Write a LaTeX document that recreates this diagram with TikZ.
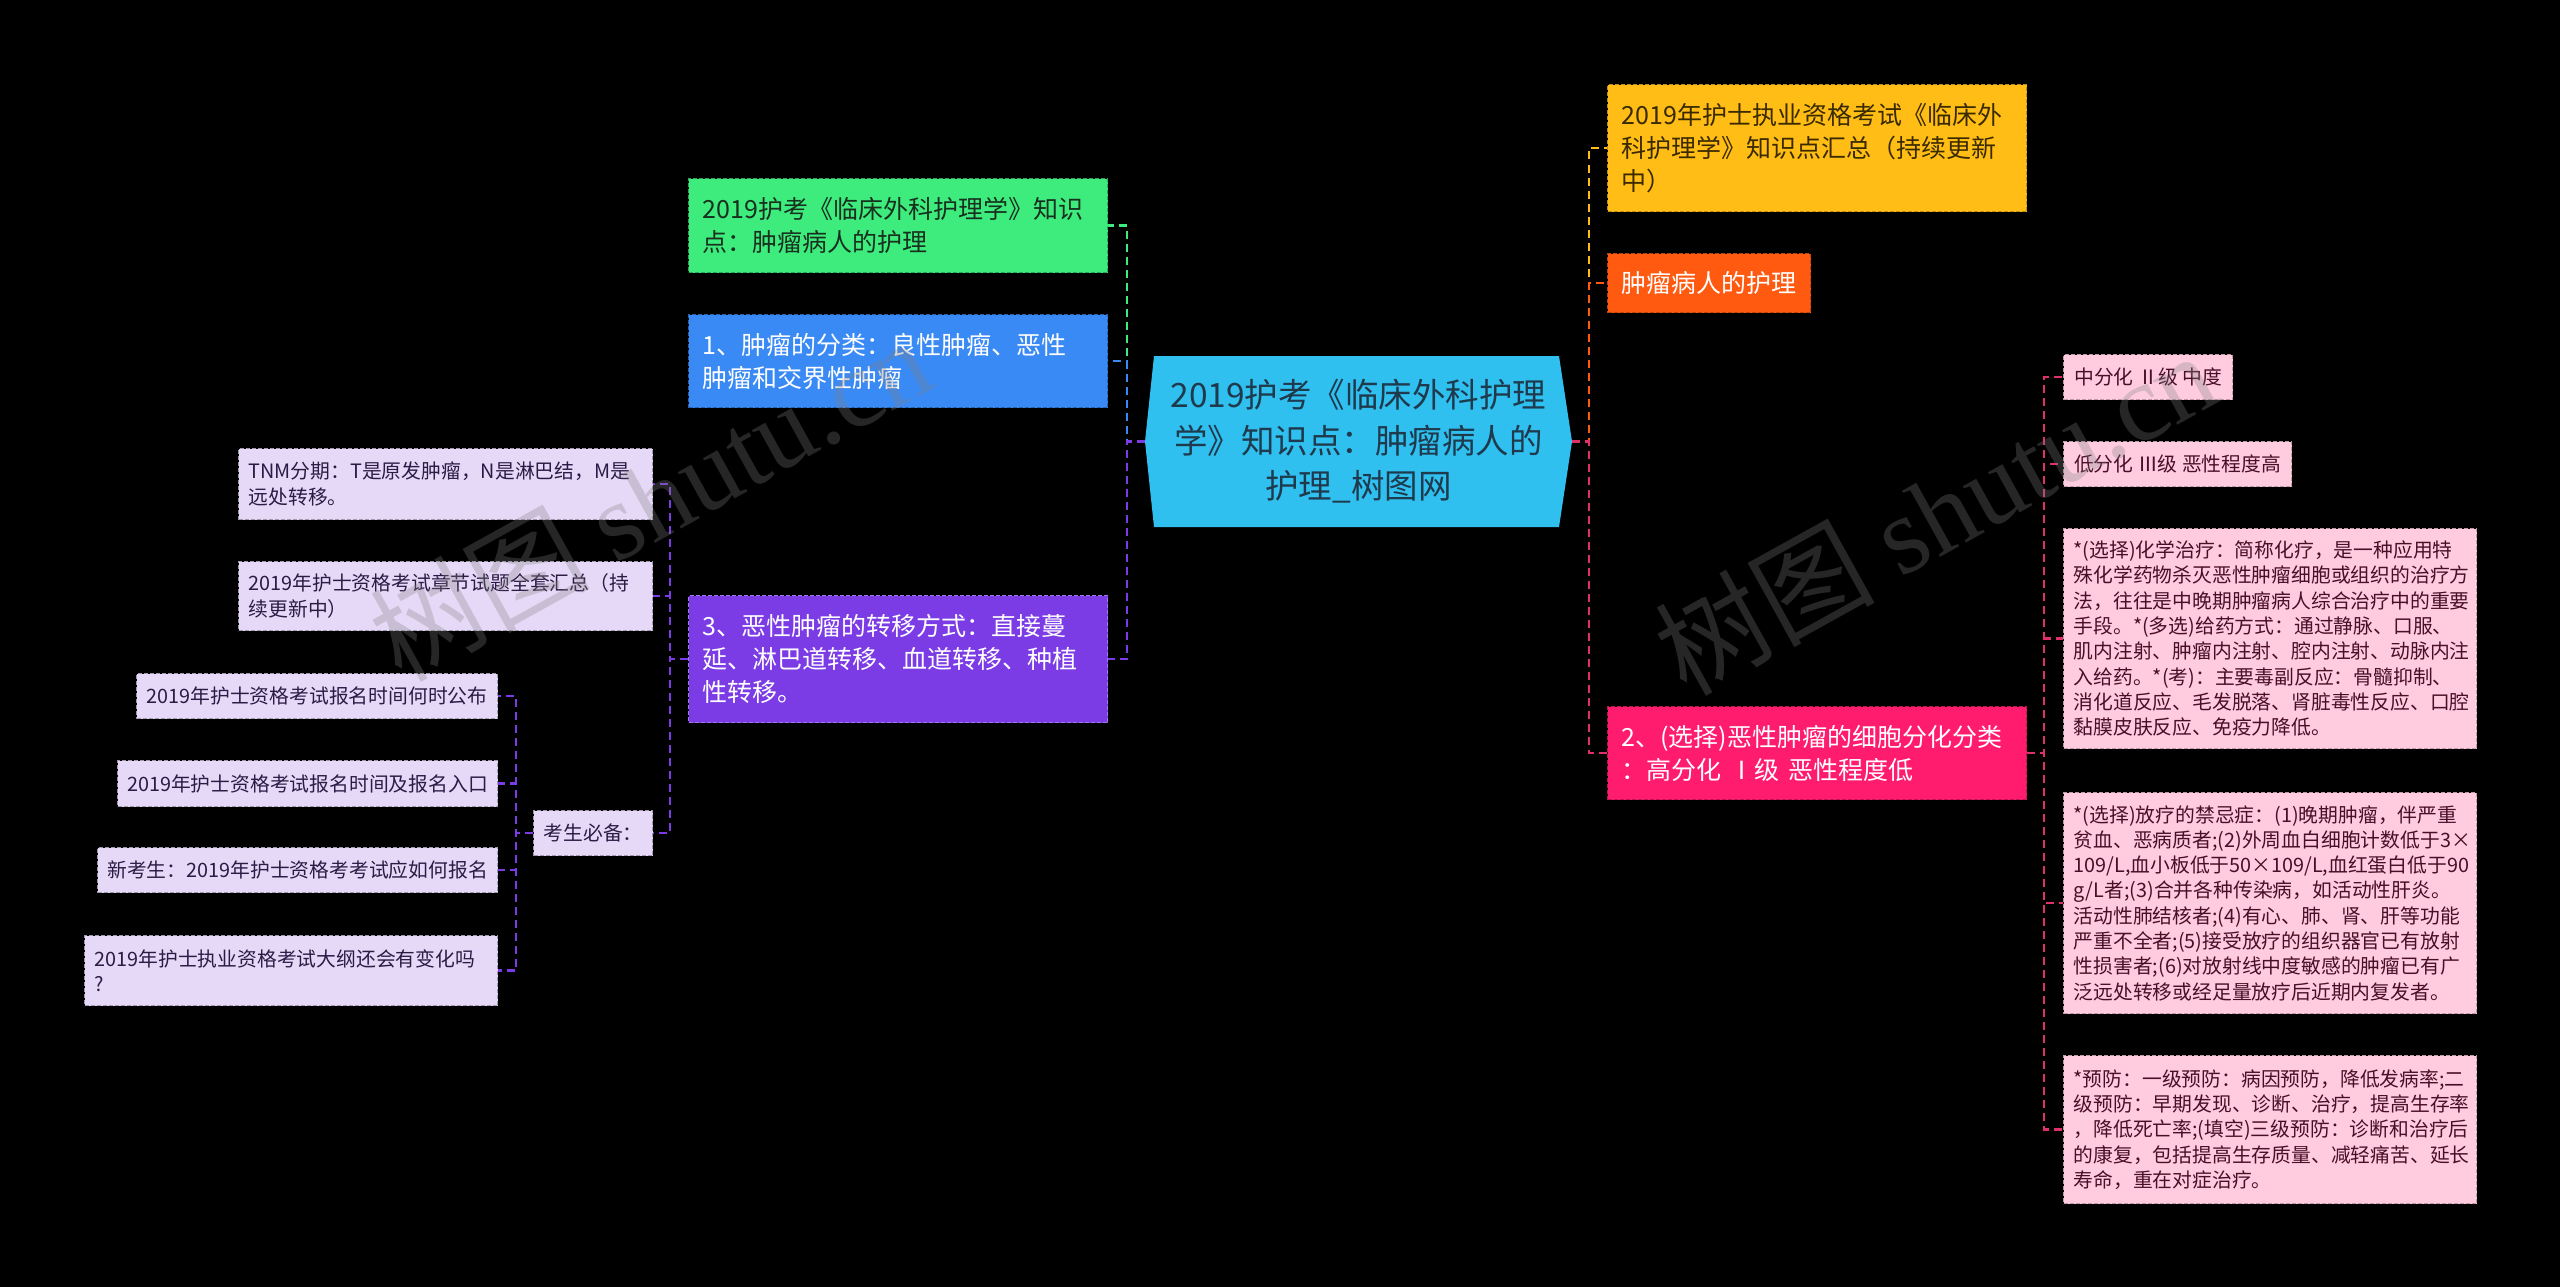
\documentclass[tikz,border=0pt]{standalone}
\usepackage{fontspec}
\setmainfont{Noto Sans CJK SC}
\newfontfamily\wmfont{Liberation Serif}
\usetikzlibrary{calc}
\definecolor{ccyan}{HTML}{30C0F0}
\definecolor{ccenterT}{HTML}{1E3A4C}
\definecolor{cgreen}{HTML}{3EEC7E}
\definecolor{cgreenT}{HTML}{18301E}
\definecolor{cblue}{HTML}{3A8AF5}
\definecolor{cpurple}{HTML}{7B3BE5}
\definecolor{clav}{HTML}{E6D9F7}
\definecolor{clavT}{HTML}{2D1B45}
\definecolor{cyellow}{HTML}{FFBD15}
\definecolor{cyellowT}{HTML}{3A2A00}
\definecolor{corange}{HTML}{FF5A0F}
\definecolor{chot}{HTML}{FF1B6E}
\definecolor{chotL}{HTML}{E0306A}
\definecolor{cpink}{HTML}{FFCCDF}
\definecolor{cpinkT}{HTML}{4A0F28}
\tikzset{
  box/.style={anchor=north west, inner ysep=2pt, dash pattern=on 4pt off 2pt, line width=1.2pt},
  lvA/.style={box, inner xsep=14pt, align=left, font=\fontsize{25}{33}\selectfont},
  leaf/.style={box, inner xsep=10pt, align=left, font=\fontsize{19.8}{25.3}\selectfont},
  leafc/.style={box, inner xsep=4pt, font=\fontsize{19.8}{25.3}\selectfont},
  lavbox/.style={fill=clav, draw=clav!70!black, text=clavT},
  pinkbox/.style={fill=cpink, draw=cpink!75!black, text=cpinkT},
  link/.style={line width=2.5pt, dash pattern=on 8pt off 5pt},
  wm/.style={rotate=29, text=gray, opacity=0.3, font=\fontsize{110}{120}\selectfont},
}
\begin{document}
\begin{tikzpicture}[x=1pt,y=-1pt]
\fill[black] (0,0) rectangle (2560,1287);
\useasboundingbox (0,0) rectangle (2560,1287);

% center
\fill[ccyan] (1145,441.5) -- (1154,356) -- (1559,356) -- (1572,441.5) -- (1559,527) -- (1154,527) -- cycle;
\node[minimum width=427pt, minimum height=171pt, inner sep=0pt, align=center, text=ccenterT,
      font=\fontsize{33.5}{45.5}\selectfont] (c) at (1358.5,441.5)
  {2019护考《临床外科护理\\学》知识点：肿瘤病人的\\护理\_树图网};

% level 1 left
\node[lvA, fill=cgreen, draw=cgreen!70!black, text=cgreenT, text width=391pt, minimum height=94pt] (g) at (688,178)
  {2019护考《临床外科护理学》知识\\点：肿瘤病人的护理};
\node[lvA, fill=cblue, draw=cblue!70!black, text=white, text width=391pt, minimum height=93pt] (b) at (688,314)
  {1、肿瘤的分类：良性肿瘤、恶性\\肿瘤和交界性肿瘤};
\node[lvA, fill=cpurple, draw=cpurple!70!white, text=white, text width=391pt, minimum height=127pt] (p) at (688,595)
  {3、恶性肿瘤的转移方式：直接蔓\\延、淋巴道转移、血道转移、种植\\性转移。};

% level 1 right
\node[lvA, fill=cyellow, draw=cyellow!75!black, text=cyellowT, text width=391pt, minimum height=127pt] (y) at (1607,84)
  {2019年护士执业资格考试《临床外\\科护理学》知识点汇总（持续更新\\中）};
\node[lvA, fill=corange, draw=corange!75!black, text=white, text width=175pt, minimum height=59pt] (o) at (1607,253)
  {肿瘤病人的护理};
\node[lvA, fill=chot, draw=chot!75!black, text=white, text width=391pt, minimum height=93pt] (n2) at (1607,706)
  {2、(选择)恶性肿瘤的细胞分化分类\\：高分化 Ⅰ级 恶性程度低};

% purple children
\node[leaf, lavbox, text width=394pt, minimum height=71pt] (tnm) at (238,448)
  {TNM分期：T是原发肿瘤，N是淋巴结，M是\\远处转移。};
\node[leaf, lavbox, text width=394pt, minimum height=69pt] (chap) at (238,561)
  {2019年护士资格考试章节试题全套汇总（持\\续更新中）};
\node[leafc, lavbox, minimum width=119pt, minimum height=45pt] (ks) at (533,810)
  {考生必备：};
\node[leafc, lavbox, minimum width=361pt, minimum height=45pt] (k1) at (136,673)
  {2019年护士资格考试报名时间何时公布};
\node[leafc, lavbox, minimum width=380pt, minimum height=46pt] (k2) at (117,760)
  {2019年护士资格考试报名时间及报名入口};
\node[leafc, lavbox, minimum width=400pt, minimum height=45pt] (k3) at (97,847)
  {新考生：2019年护士资格考考试应如何报名};
\node[leaf, lavbox, text width=393pt, minimum height=70pt] (k4) at (84,935)
  {2019年护士执业资格考试大纲还会有变化吗\\?};

% node2 children
\node[leafc, pinkbox, minimum width=169pt, minimum height=45pt] (r1) at (2063,354)
  {中分化 Ⅱ级 中度};
\node[leafc, pinkbox, minimum width=228pt, minimum height=45pt] (r2) at (2063,441)
  {低分化 Ⅲ级 恶性程度高};
\node[leaf, pinkbox, text width=393pt, minimum height=220pt] (r3) at (2063,528)
  {*(选择)化学治疗：简称化疗，是一种应用特\\殊化学药物杀灭恶性肿瘤细胞或组织的治疗方\\法，往往是中晚期肿瘤病人综合治疗中的重要\\手段。*(多选)给药方式：通过静脉、口服、\\肌内注射、肿瘤内注射、腔内注射、动脉内注\\入给药。*(考)：主要毒副反应：骨髓抑制、\\消化道反应、毛发脱落、肾脏毒性反应、口腔\\黏膜皮肤反应、免疫力降低。};
\node[leaf, pinkbox, text width=393pt, minimum height=221pt] (r4) at (2063,792)
  {*(选择)放疗的禁忌症：(1)晚期肿瘤，伴严重\\贫血、恶病质者;(2)外周血白细胞计数低于3×\\109/L,血小板低于50×109/L,血红蛋白低于90\\g/L者;(3)合并各种传染病，如活动性肝炎。\\活动性肺结核者;(4)有心、肺、肾、肝等功能\\严重不全者;(5)接受放疗的组织器官已有放射\\性损害者;(6)对放射线中度敏感的肿瘤已有广\\泛远处转移或经足量放疗后近期内复发者。};
\node[leaf, pinkbox, text width=393pt, minimum height=148pt] (r5) at (2063,1055)
  {*预防：一级预防：病因预防，降低发病率;二\\级预防：早期发现、诊断、治疗，提高生存率\\，降低死亡率;(填空)三级预防：诊断和治疗后\\的康复，包括提高生存质量、减轻痛苦、延长\\寿命，重在对症治疗。};

% connectors left
\draw[link, cgreen] (c.west) -- ++(-18,0) |- (g.east);
\draw[link, cblue] (c.west) -- ++(-18,0) |- (b.east);
\draw[link, cpurple] (c.west) -- ++(-18,0) |- (p.east);
\foreach \t in {tnm,chap,ks}
  \draw[link, cpurple] (p.west) -- ++(-18,0) |- (\t.east);
\foreach \t in {k1,k2,k3,k4}
  \draw[link, cpurple] (ks.west) -- ++(-17,0) |- (\t.east);

% connectors right
\draw[link, cyellow] (c.east) -- ++(17,0) |- (y.west);
\draw[link, corange] (c.east) -- ++(17,0) |- (o.west);
\draw[link, chotL] (c.east) -- ++(17,0) |- (n2.west);
\foreach \t in {r1,r2,r3,r4,r5}
  \draw[link, chotL] (n2.east) -- ++(17,0) |- (\t.west);

% watermarks
\node[wm] (wm1) at (650,498) {树图 {\wmfont shutu.cn}};
\node[wm] (wm2) at (1935,512) {树图 {\wmfont shutu.cn}};
\end{tikzpicture}
\end{document}
